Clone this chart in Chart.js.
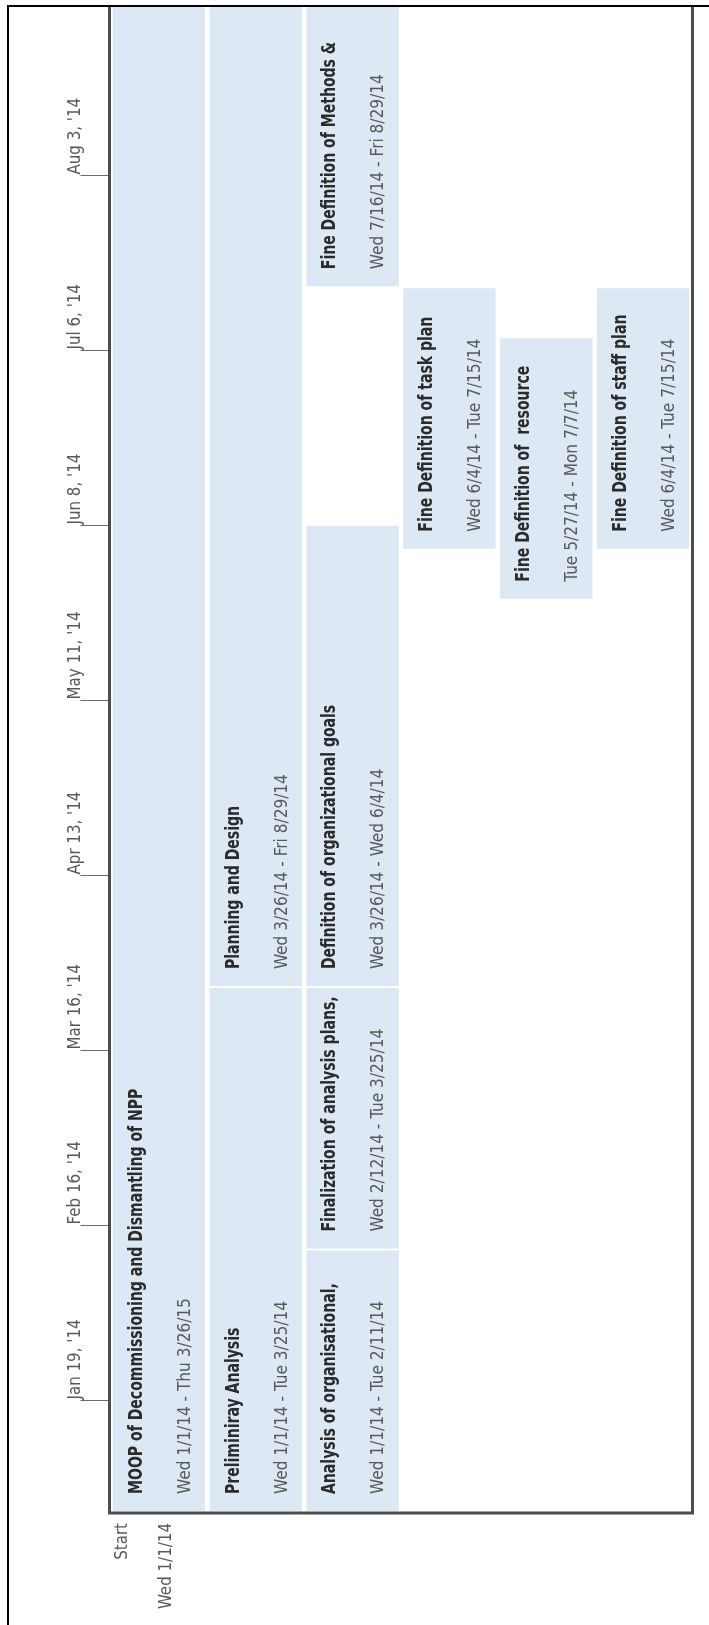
<!DOCTYPE html>
<html><head><meta charset="utf-8">
<script src="https://cdn.jsdelivr.net/npm/chart.js@4/dist/chart.umd.min.js"></script>
<style>html,body{margin:0;padding:0;background:#fff;}canvas{display:block;}</style>
</head><body>
<canvas id="c" width="709" height="1625" style="width:709px;height:1625px"></canvas>
<script>
// ---- data ----
const lanes = ['Lane 1', 'Lane 2', 'Lane 3', 'Lane 4', 'Lane 5', 'Lane 6'];
const taskNames = [
  'MOOP of Decommissioning and Dismantling of NPP',
  'Preliminiray Analysis',
  'Planning and Design',
  'Analysis of organisational,',
  'Finalization of analysis plans,',
  'Definition of organizational goals',
  'Fine Definition of Methods &',
  'Fine Definition of task plan',
  'Fine Definition of  resource',
  'Fine Definition of staff plan'
];
const taskLanes = [0, 1, 1, 2, 2, 2, 2, 3, 4, 5];
const taskStarts = ['2014-01-01', '2014-01-01', '2014-03-26', '2014-01-01', '2014-02-12', '2014-03-26', '2014-07-16', '2014-06-04', '2014-05-27', '2014-06-04'];
const taskEnds   = ['2015-03-26', '2014-03-25', '2014-08-29', '2014-02-11', '2014-03-25', '2014-06-07', '2014-08-29', '2014-07-15', '2014-07-07', '2014-07-15'];
const taskDateText = [
  'Wed 1/1/14 - Thu 3/26/15',
  'Wed 1/1/14 - Tue 3/25/14',
  'Wed 3/26/14 - Fri 8/29/14',
  'Wed 1/1/14 - Tue 2/11/14',
  'Wed 2/12/14 - Tue 3/25/14',
  'Wed 3/26/14 - Wed 6/4/14',
  'Wed 7/16/14 - Fri 8/29/14',
  'Wed 6/4/14 - Tue 7/15/14',
  'Tue 5/27/14 - Mon 7/7/14',
  'Wed 6/4/14 - Tue 7/15/14'
];
const tickDates = ['2014-01-19', '2014-02-16', '2014-03-16', '2014-04-13', '2014-05-11', '2014-06-08', '2014-07-06', '2014-08-03'];
const tickLabels = ["Jan 19, '14", "Feb 16, '14", "Mar 16, '14", "Apr 13, '14", "May 11, '14", "Jun 8, '14", "Jul 6, '14", "Aug 3, '14"];
const timelineStart = '2014-01-01';
const timelineEnd = '2014-08-30';
const startLabel = 'Start';
const startDateLabel = 'Wed 1/1/14';

// ---- helpers ----
function dayOf(s) {
  const [y, m, d] = s.split('-').map(Number);
  const [y0, m0, d0] = timelineStart.split('-').map(Number);
  return (Date.UTC(y, m - 1, d) - Date.UTC(y0, m0 - 1, d0)) / 86400000;
}
const FONT = '"Liberation Sans Narrow", "DejaVu Sans Condensed", "Arial Narrow", sans-serif';
const BAR_FILL = '#dde8f5';
const NAME_COLOR = '#2b2b2b';
const DATE_COLOR = '#595959';
const FRAME_COLOR = '#4d4d4d';

const datasets = taskNames.map((name, i) => ({
  label: name,
  data: lanes.map((_, j) => j === taskLanes[i] ? [dayOf(taskStarts[i]), dayOf(taskEnds[i]) + 1] : null),
  grouped: false,
  backgroundColor: BAR_FILL,
  borderColor: '#ffffff',
  borderWidth: 1,
  borderSkipped: false,
  barPercentage: 0.975,
  categoryPercentage: 1
}));

function vtext(ctx, text, x, y, font, color, align, squeeze, stretch) {
  ctx.save();
  ctx.translate(x, y);
  ctx.rotate(-Math.PI / 2);
  ctx.scale(squeeze, stretch || 1);
  ctx.font = font;
  ctx.fillStyle = color;
  ctx.textAlign = align;
  ctx.textBaseline = 'alphabetic';
  ctx.fillText(text, 0, 0);
  ctx.restore();
}

const nameFont = 'bold 18px ' + FONT;
const dateFont = '18px ' + FONT;
const tickFont = '17px ' + FONT;

const timelinePlugin = {
  id: 'timelineDeco',
  afterDatasetsDraw(chart) {
    const ctx = chart.ctx;
    const area = chart.chartArea;
    const yScale = chart.scales.y;
    ctx.save();
    ctx.font = nameFont;
    const nameSq = 215 / ctx.measureText('Fine Definition of task plan').width;
    ctx.font = dateFont;
    const dateSq = 193 / ctx.measureText('Wed 6/4/14 - Tue 7/15/14').width;
    ctx.font = tickFont;
    const tickSq = 88 / ctx.measureText("May 11, '14").width;
    ctx.restore();

    // bar labels
    ctx.save();
    ctx.beginPath();
    ctx.rect(area.left, area.top, area.right - area.left, area.bottom - area.top);
    ctx.clip();
    taskNames.forEach((name, i) => {
      const el = chart.getDatasetMeta(i).data[taskLanes[i]];
      if (!el) return;
      const left = el.x - el.width / 2;
      const bottom = Math.max(el.base, el.y);
      vtext(ctx, name, left + 30, bottom - 18, nameFont, NAME_COLOR, 'left', nameSq, 1.05);
      vtext(ctx, taskDateText[i], left + 78, bottom - 18, dateFont, DATE_COLOR, 'left', dateSq, 1);
    });
    ctx.restore();

    // frame
    ctx.save();
    ctx.strokeStyle = FRAME_COLOR;
    ctx.lineWidth = 3;
    ctx.beginPath();
    ctx.moveTo(area.left - 1, area.top);
    ctx.lineTo(area.left - 1, area.bottom + 1);
    ctx.lineTo(area.right + 1, area.bottom + 1);
    ctx.lineTo(area.right + 1, area.top);
    ctx.stroke();
    ctx.restore();

    // ticks
    ctx.save();
    ctx.strokeStyle = '#6a6a6a';
    ctx.lineWidth = 1;
    tickDates.forEach((d, i) => {
      const y = Math.round(yScale.getPixelForValue(dayOf(d))) + 0.5;
      ctx.beginPath();
      ctx.moveTo(area.left - 30, y);
      ctx.lineTo(area.left - 2, y);
      ctx.stroke();
      vtext(ctx, tickLabels[i], area.left - 31, y - 1, tickFont, DATE_COLOR, 'left', tickSq, 1);
    });
    ctx.restore();

    // start labels below frame
    const y0 = yScale.getPixelForValue(0);
    vtext(ctx, startLabel, area.left + 16, y0 + 11, tickFont, DATE_COLOR, 'right', tickSq, 1);
    vtext(ctx, startDateLabel, area.left + 60, y0 + 11, tickFont, DATE_COLOR, 'right', tickSq, 1);

    // outer border
    ctx.save();
    ctx.strokeStyle = '#000000';
    ctx.lineWidth = 2;
    ctx.beginPath();
    ctx.moveTo(8, 1625);
    ctx.lineTo(8, 6);
    ctx.lineTo(709, 6);
    ctx.stroke();
    ctx.restore();
  }
};

new Chart(document.getElementById('c'), {
  type: 'bar',
  data: { labels: lanes, datasets },
  options: {
    responsive: false,
    maintainAspectRatio: false,
    animation: false,
    devicePixelRatio: 1,
    layout: { padding: { left: 110.5, right: 17.5, top: 6, bottom: 113 } },
    plugins: { legend: { display: false }, tooltip: { enabled: false }, title: { display: false } },
    scales: {
      x: { display: false, offset: true, grid: { display: false } },
      y: { display: false, min: 0, max: dayOf(timelineEnd), grid: { display: false } }
    }
  },
  plugins: [timelinePlugin]
});
</script>
</body></html>
